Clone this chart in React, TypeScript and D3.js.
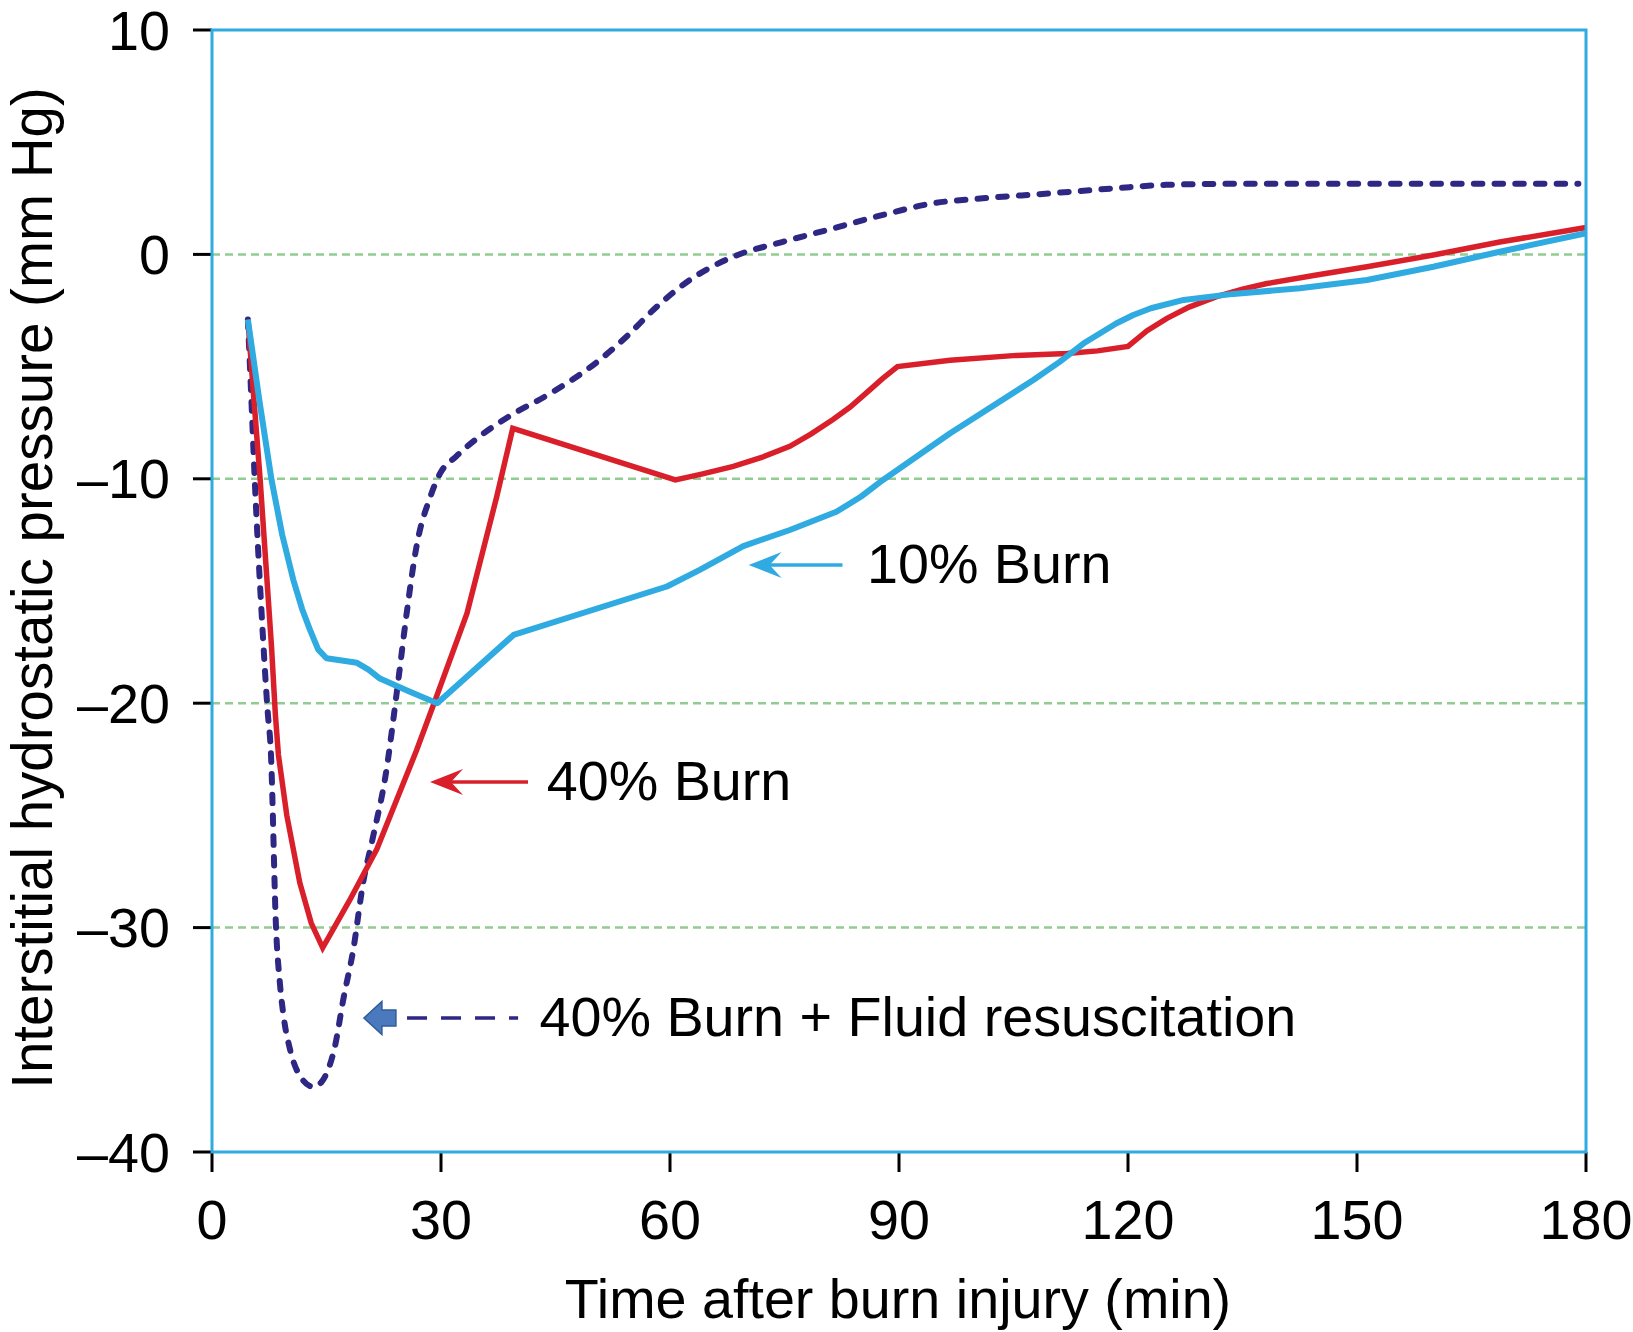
import React from "react";
import * as d3 from "d3";

// ---- data ----
const yTickValues = [10, 0, -10, -20, -30, -40];
const xTickValues = [0, 30, 60, 90, 120, 150, 180];
const gridValues = [0, -10, -20, -30];

const burn10: [number, number][] = [
  [4.7, -2.9], [6.2, -6.5], [7.8, -10.05], [9.2, -12.5], [10.65, -14.5], [11.8, -15.8], [12.8, -16.7],
  [13.9, -17.6], [15, -18.0], [17, -18.1], [19, -18.2], [20.5, -18.5], [22, -18.9], [26, -19.5],
  [29.5, -20.0], [39.5, -16.96], [59.6, -14.8], [63.9, -14.06], [69.6, -13.0], [75.7, -12.28],
  [81.8, -11.47], [85, -10.8], [87.9, -10.05], [96.7, -7.97], [107.6, -5.6], [111, -4.8],
  [114.2, -3.96], [118.5, -3.07], [120.7, -2.7], [123, -2.4], [127.3, -2.03], [133.8, -1.76],
  [142.5, -1.51], [151.3, -1.14], [160, -0.55], [168.7, 0.12], [180, 0.94],
];

const burn40: [number, number][] = [
  [4.7, -2.9], [5.5, -6.5], [6.3, -10.0], [7.2, -14.5], [7.8, -17.5], [8.3, -20.5], [8.7, -22.3],
  [9.8, -25.0], [11.5, -28.0], [13.0, -29.8], [14.5, -30.9], [18, -28.8], [21.6, -26.5],
  [26.8, -22.1], [29.2, -19.9], [33.4, -16.0], [37.3, -10.8], [39.4, -7.75], [60.7, -10.05],
  [64, -9.8], [68.3, -9.45], [72, -9.05], [75.7, -8.55], [78.5, -8.0], [81.4, -7.35], [83.6, -6.8],
  [85.8, -6.15], [87.8, -5.55], [89.8, -5.0], [96.7, -4.72], [105.4, -4.5], [112, -4.42],
  [116, -4.3], [120, -4.1], [122.5, -3.4], [125.1, -2.85], [128, -2.35], [131.6, -1.88],
  [135, -1.55], [138.2, -1.3], [144.7, -0.92], [151.3, -0.55], [160, -0.03], [168.7, 0.55],
  [180, 1.2],
];

const burn40Fluid: [number, number][] = [
  [4.7, -2.9], [5.1, -6.0], [5.6, -10.05], [6.5, -16.0], [7.3, -20.4], [7.7, -22.1], [8.4, -30.1],
  [8.9, -32.5], [9.4, -34.0], [10.2, -35.4], [11.5, -36.6], [13.3, -37.1], [14.3, -36.9],
  [15.0, -36.5], [16.1, -35.3], [17.2, -33.2], [18.5, -31.0], [19.8, -28.0], [21.1, -25.95],
  [22.7, -23.3], [24.4, -19.0], [25.5, -16.0], [26.8, -13.0], [28.6, -10.8], [29.9, -9.75],
  [32, -9.0], [35.1, -8.1], [39, -7.2], [44.3, -6.2], [50.8, -4.7], [54.5, -3.6], [57.8, -2.48],
  [62.6, -1.14], [68.3, -0.1], [74.9, 0.57], [81.4, 1.16], [87.9, 1.76], [94.5, 2.28], [101, 2.5],
  [109.8, 2.72], [118.5, 2.95], [125, 3.1], [135, 3.15], [150, 3.15], [165, 3.15], [179, 3.15],
];

const xTitle = "Time after burn injury (min)";
const yTitle = "Interstitial hydrostatic pressure (mm Hg)";
const labels = ["10% Burn", "40% Burn", "40% Burn + Fluid resuscitation"];

// ---- layout ----
const W = 1633;
const H = 1332;
const left = 212;
const right = 1586;
const top = 30;
const bottom = 1152;
const FONT = "'Liberation Sans', Arial, Helvetica, sans-serif";
const FS = 55.7;

const CYAN = "#2fabe1";
const RED = "#d9202a";
const NAVY = "#2e2783";
const GRID = "#93cc93";

export default function App() {
  const x = d3.scaleLinear().domain([0, 180]).range([left, right]);
  const y = d3.scaleLinear().domain([-40, 10]).range([bottom, top]);

  const lineLin = d3
    .line<[number, number]>()
    .x((d) => x(d[0]))
    .y((d) => y(d[1]))
    .curve(d3.curveLinear);
  const lineSmooth = d3
    .line<[number, number]>()
    .x((d) => x(d[0]))
    .y((d) => y(d[1]))
    .curve(d3.curveMonotoneX);

  const fmt = (v: number) => (v < 0 ? "\u2013" + Math.abs(v) : String(v));

  // annotation anchors (data coordinates)
  const a10 = { tip: [70.3, -13.84], end: 82.6, text: [85.8, -14.66] };
  const a40 = { tip: [28.56, -23.51], end: 41.4, text: [43.85, -24.31] };
  const aF = { tip: [19.9, -34.03], dashStart: 25.55, dashEnd: 40.1, text: [42.9, -34.83] };

  const notchedHead = (tx: number, ty: number) =>
    `M${tx},${ty} L${tx + 33},${ty - 13} L${tx + 21},${ty} L${tx + 33},${ty + 13} Z`;

  const bx = x(aF.tip[0]);
  const by = y(aF.tip[1]);
  const blockArrow = `M${bx},${by} L${bx + 18},${by - 16.5} L${bx + 18},${by - 8} L${bx + 32},${by - 8} L${bx + 32},${by + 8} L${bx + 18},${by + 8} L${bx + 18},${by + 16.5} Z`;

  return (
    <svg
      width={W}
      height={H}
      style={{ position: "absolute", left: 0, top: 0, background: "#fff" }}
      fontFamily={FONT}
    >
      <rect x={0} y={0} width={W} height={H} fill="#fff" />
      {/* grid */}
      {gridValues.map((v) => (
        <line
          key={"g" + v}
          x1={left}
          x2={right}
          y1={y(v)}
          y2={y(v)}
          stroke={GRID}
          strokeWidth={2.5}
          strokeDasharray="8 5"
        />
      ))}

      {/* y ticks */}
      {yTickValues.map((v) => (
        <g key={"y" + v}>
          <line x1={left - 19} x2={left} y1={y(v)} y2={y(v)} stroke="#000" strokeWidth={3} />
          <text x={170} y={y(v) + 19.5} textAnchor="end" fontSize={FS} fill="#000">
            {fmt(v)}
          </text>
        </g>
      ))}
      {/* x ticks */}
      {xTickValues.map((v) => (
        <g key={"x" + v}>
          <line x1={x(v)} x2={x(v)} y1={bottom} y2={bottom + 20} stroke="#000" strokeWidth={3} />
          <text x={x(v)} y={1239} textAnchor="middle" fontSize={FS} fill="#000">
            {v}
          </text>
        </g>
      ))}

      {/* series */}
      <path
        d={lineSmooth(burn40Fluid) || ""}
        fill="none"
        stroke={NAVY}
        strokeWidth={6}
        strokeDasharray="8.5 12.2"
        strokeLinecap="round"
      />
      <path d={lineLin(burn40) || ""} fill="none" stroke={RED} strokeWidth={5.5} strokeLinejoin="miter" />
      <path d={lineLin(burn10) || ""} fill="none" stroke={CYAN} strokeWidth={6} strokeLinejoin="round" />

      {/* frame */}
      <rect x={left} y={top} width={right - left} height={bottom - top} fill="none" stroke={CYAN} strokeWidth={3} />

      {/* annotations */}
      <line x1={x(a10.tip[0]) + 20} x2={x(a10.end)} y1={y(a10.tip[1])} y2={y(a10.tip[1])} stroke={CYAN} strokeWidth={3.5} />
      <path d={notchedHead(x(a10.tip[0]), y(a10.tip[1]))} fill={CYAN} />
      <text x={x(a10.text[0])} y={y(a10.text[1])} fontSize={FS} fill="#000">
        {labels[0]}
      </text>

      <line x1={x(a40.tip[0]) + 20} x2={x(a40.end)} y1={y(a40.tip[1])} y2={y(a40.tip[1])} stroke={RED} strokeWidth={3.5} />
      <path d={notchedHead(x(a40.tip[0]), y(a40.tip[1]))} fill={RED} />
      <text x={x(a40.text[0])} y={y(a40.text[1])} fontSize={FS} fill="#000">
        {labels[1]}
      </text>

      <path d={blockArrow} fill="#4a79bd" stroke="#2f5c99" strokeWidth={1.5} />
      <line
        x1={x(aF.dashStart)}
        x2={x(aF.dashEnd)}
        y1={y(aF.tip[1])}
        y2={y(aF.tip[1])}
        stroke={NAVY}
        strokeWidth={3.5}
        strokeDasharray="20 14"
      />
      <text x={x(aF.text[0])} y={y(aF.text[1])} fontSize={FS} fill="#000">
        {labels[2]}
      </text>

      {/* axis titles */}
      <text x={(left + right) / 2 - 1} y={1318} textAnchor="middle" fontSize={FS} fill="#000">
        {xTitle}
      </text>
      <text
        transform={`translate(52, ${(top + bottom) / 2 - 3}) rotate(-90)`}
        textAnchor="middle"
        fontSize={56.5}
        fill="#000"
      >
        {yTitle}
      </text>
    </svg>
  );
}
